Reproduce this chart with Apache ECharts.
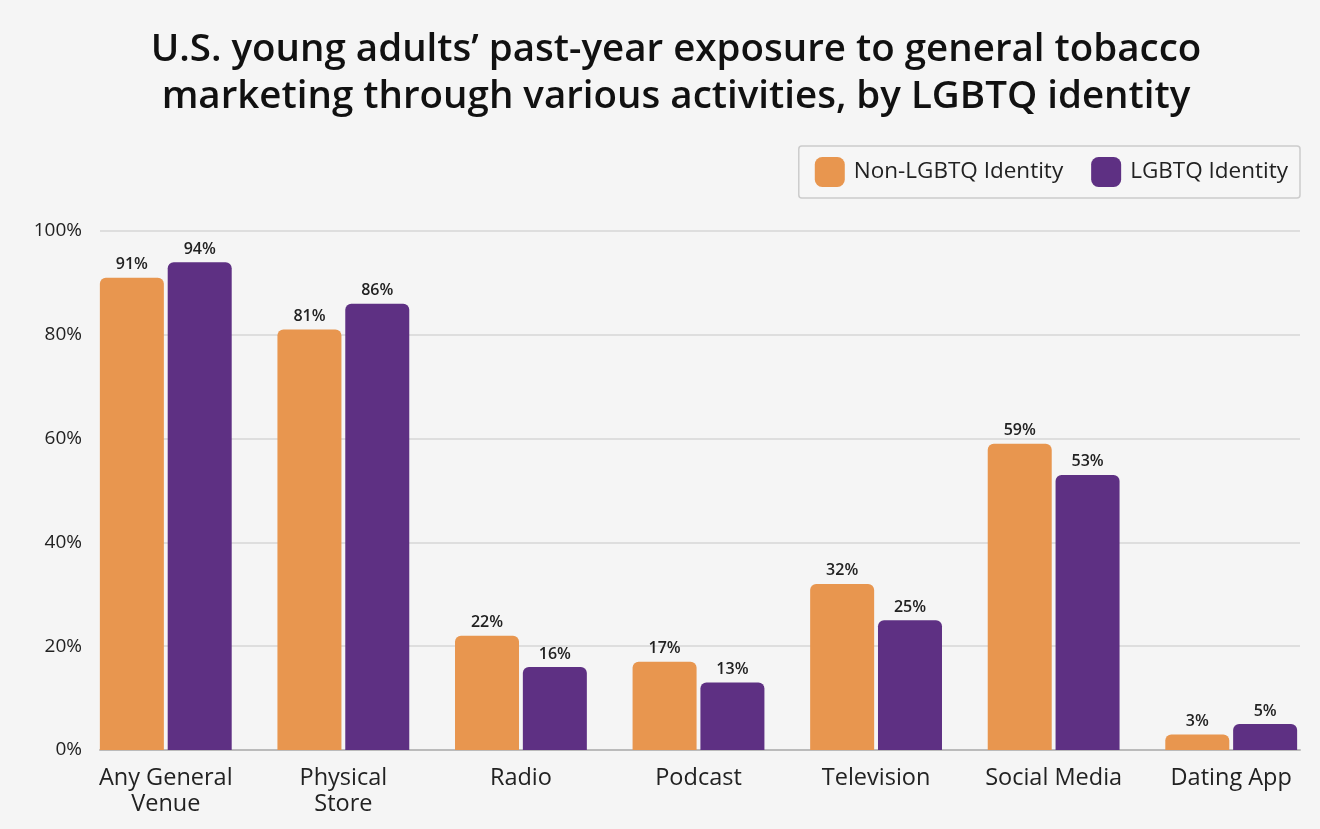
<!DOCTYPE html>
<html>
<head>
<meta charset="utf-8">
<script src="https://cdn.jsdelivr.net/npm/echarts@6/dist/echarts.min.js"></script>
<style>
html,body{margin:0;padding:0;background:#f5f5f5;}
#c{width:1320px;height:829px;}
</style>
</head>
<body>
<div id="c"></div>
<script>
const categories = ['Any General\nVenue', 'Physical\nStore', 'Radio', 'Podcast', 'Television', 'Social Media', 'Dating App'];
const nonLGBTQ = [91, 81, 22, 17, 32, 59, 3];
const lgbtq = [94, 86, 16, 13, 25, 53, 5];
const seriesNames = ['Non-LGBTQ Identity', 'LGBTQ Identity'];
const yTicks = [0, 20, 40, 60, 80, 100];

const FONT = '"Open Sans", "Noto Sans", sans-serif';
const chart = echarts.init(document.getElementById('c'), null, {renderer: 'canvas'});

const labelCfg = {
  show: true, position: 'top', distance: 5,
  formatter: p => p.value + '%',
  color: '#222', fontSize: 16, fontWeight: 600, fontFamily: FONT
};

chart.setOption({
  backgroundColor: '#f5f5f5',
  animation: false,
  title: {
    text: 'U.S. young adults\u2019 past-year exposure to general tobacco\nmarketing through various activities, by LGBTQ identity',
    left: 671, top: 22, textAlign: 'center',
    textStyle: {fontFamily: FONT, fontSize: 38.5, fontWeight: 600, color: '#111', lineHeight: 47}
  },
  legend: {
    data: seriesNames,
    right: 20, top: 146,
    itemWidth: 30, itemHeight: 30, itemGap: 28,
    padding: [11, 12, 11, 16],
    borderColor: '#cccccc', borderWidth: 1.5, borderRadius: 3,
    backgroundColor: '#f6f6f6',
    icon: 'roundRect',
    textStyle: {fontFamily: FONT, fontSize: 22.5, color: '#222', padding: [0, 0, 0, 4]}
  },
  grid: [
    {left: 100, right: 20, top: 231, bottom: 79},
    {left: 77, right: -3, top: 231, bottom: 79}
  ],
  xAxis: [
    {gridIndex: 0, type: 'value', min: 0, max: 1, show: true,
     axisLine: {show: true, lineStyle: {color: '#bbbbbb', width: 2}},
     axisTick: {show: false}, axisLabel: {show: false}, splitLine: {show: false}},
    {gridIndex: 1, type: 'category', data: categories,
     axisLine: {show: false}, axisTick: {show: false},
     axisLabel: {fontFamily: FONT, fontSize: 23.5, color: '#222', margin: 15, lineHeight: 26, interval: 0}}
  ],
  yAxis: [
    {gridIndex: 0, type: 'value', min: 0, max: 100, interval: 20,
     axisLine: {show: false}, axisTick: {show: false},
     axisLabel: {formatter: v => yTicks.includes(v) ? v + '%' : '', fontFamily: FONT, fontSize: 19, fontWeight: 500, color: '#222', margin: 18},
     splitLine: {lineStyle: {color: '#d6d6d6', width: 1.5}}},
    {gridIndex: 1, type: 'value', min: 0, max: 100, show: false, splitLine: {show: false}}
  ],
  series: [
    {name: seriesNames[0], type: 'bar', xAxisIndex: 1, yAxisIndex: 1, data: nonLGBTQ,
     barWidth: 64, barGap: '6%',
     itemStyle: {color: '#e8964f', borderRadius: [6, 6, 0, 0]}, label: labelCfg, z: 3},
    {name: seriesNames[1], type: 'bar', xAxisIndex: 1, yAxisIndex: 1, data: lgbtq,
     barWidth: 64, barGap: '6%',
     itemStyle: {color: '#5e3083', borderRadius: [6, 6, 0, 0]}, label: labelCfg, z: 3}
  ]
});
</script>
</body>
</html>
